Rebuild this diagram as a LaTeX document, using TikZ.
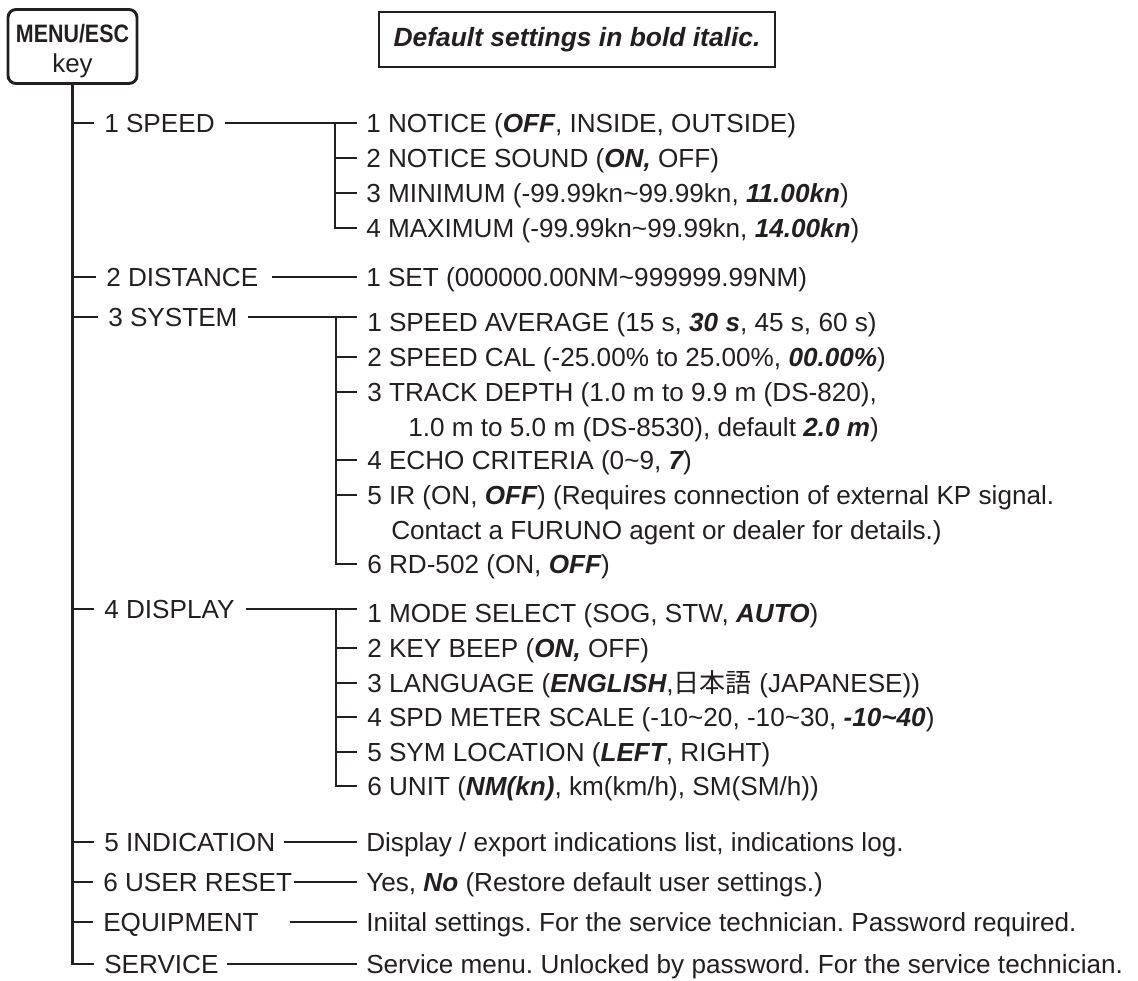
\documentclass[tikz,border=0pt]{standalone}
\usepackage{fontspec}
\setmainfont{Liberation Sans}
\newfontfamily\jpfont{Noto Sans CJK JP}
\newfontfamily\narrowfont{Liberation Sans}[FakeStretch=0.85]
\usetikzlibrary{calc}
\definecolor{ink}{RGB}{35,31,32}
\newcommand\bi[1]{{\bfseries\itshape #1}}
\newcommand\tld{\textasciitilde}
\frenchspacing
\begin{document}
\begin{tikzpicture}[x=0.75pt,y=-0.75pt,
  txt/.style={anchor=west, inner sep=0pt, text height=14pt, text depth=0pt,
    font=\fontsize{19.6}{23}\selectfont\frenchspacing, text=ink},
  ln/.style={line width=2.1pt, draw=ink},
  keybox/.style={draw=ink, line width=2.2pt, rounded corners=6pt, align=center,
    minimum width=96.75pt, minimum height=55.5pt, inner sep=0pt, text=ink,
    text height=39.75pt, text depth=0pt, font=\fontsize{19.4}{22.5}\selectfont},
  notebox/.style={draw=ink, line width=2pt, minimum width=297pt, minimum height=41.25pt,
    inner sep=0pt, text=ink, font=\fontsize{19.8}{23}\selectfont\bfseries\itshape}]
\useasboundingbox (0,0) rectangle (1138,981);
% header boxes
\node[keybox] (key) at (72.5,46.5)
  {{\fontsize{18.9}{22.5}\selectfont\narrowfont\bfseries MENU/ESC}\\key};
\node[notebox] (note) at (577,39.5) {Default settings in bold italic.};
% main menu items
\node[txt] (m1) at (104,123) {1 SPEED};
\node[txt] (m2) at (106,277) {2 DISTANCE};
\node[txt] (m3) at (108,317) {3 SYSTEM};
\node[txt] (m4) at (104,609) {4 DISPLAY};
\node[txt] (m5) at (104,842) {5 INDICATION};
\node[txt] (m6) at (103,882) {6 USER RESET};
\node[txt] (m7) at (103,922) {EQUIPMENT};
\node[txt] (m8) at (104,964) {SERVICE};
% sub items
\node[txt] (s11) at (366,123) {1 NOTICE (\bi{OFF}, INSIDE, OUTSIDE)};
\node[txt] (s12) at (366,158) {2 NOTICE SOUND (\bi{ON,} OFF)};
\node[txt] (s13) at (366,193) {3 MINIMUM (-99.99kn\tld{}99.99kn, \bi{11.00kn})};
\node[txt] (s14) at (366,228) {4 MAXIMUM (-99.99kn\tld{}99.99kn, \bi{14.00kn})};
\node[txt] (s21) at (366,277) {1 SET (000000.00NM\tld{}999999.99NM)};
\node[txt] (s31) at (367,322) {1 SPEED AVERAGE (15 s, \bi{30 s}, 45 s, 60 s)};
\node[txt] (s32) at (367,357) {2 SPEED CAL (-25.00\% to 25.00\%, \bi{00.00\%})};
\node[txt] (s33) at (367,392) {3 TRACK DEPTH (1.0 m to 9.9 m (DS-820),};
\node[txt] (c33) at (408,427) {1.0 m to 5.0 m (DS-8530), default \bi{2.0 m})};
\node[txt] (s34) at (367,460) {4 ECHO CRITERIA (0\tld{}9, \bi{7})};
\node[txt] (s35) at (367,495) {5 IR (ON, \bi{OFF}) (Requires connection of external KP signal.};
\node[txt] (c35) at (391,530) {Contact a FURUNO agent or dealer for details.)};
\node[txt] (s36) at (367,564) {6 RD-502 (ON, \bi{OFF})};
\node[txt] (s41) at (367,613) {1 MODE SELECT (SOG, STW, \bi{AUTO})};
\node[txt] (s42) at (367,648) {2 KEY BEEP (\bi{ON,} OFF)};
\node[txt] (s43) at (367,683) {3 LANGUAGE (\bi{ENGLISH},{\jpfont 日本語} (JAPANESE))};
\node[txt] (s44) at (367,717) {4 SPD METER SCALE (-10\tld{}20, -10\tld{}30, \bi{-10\tld{}40})};
\node[txt] (s45) at (367,752) {5 SYM LOCATION (\bi{LEFT}, RIGHT)};
\node[txt] (s46) at (367,786) {6 UNIT (\bi{NM(kn)}, km(km/h), SM(SM/h))};
\node[txt] (s51) at (366,842) {Display / export indications list, indications log.};
\node[txt] (s61) at (366,882) {Yes, \bi{No} (Restore default user settings.)};
\node[txt] (s71) at (366,922) {Iniital settings. For the service technician. Password required.};
\node[txt] (s81) at (366,964) {Service menu. Unlocked by password. For the service technician.};
% trunk
\draw[ln] (key.south) -- (key.south |- m8.west) -- ($(m8.west)+(-10,0)$);
\foreach \n in {m1,m2,m3,m4,m5,m6,m7}
  \draw[ln] (key.south |- \n.west) -- ($(\n.west)+(-10,0)$);
% 1 SPEED branch
\coordinate (v1) at ($(s11.west)+(-31,0)$);
\draw[ln] ($(m1.east)+(10,0)$) -- ($(s11.west)+(-9,0)$);
\draw[ln] (v1) |- ($(s14.west)+(-9,0)$);
\foreach \n in {s12,s13}
  \draw[ln] (v1 |- \n.west) -- ($(\n.west)+(-9,0)$);
% 2 DISTANCE
\draw[ln] ($(m2.east)+(13,0)$) -- ($(s21.west)+(-9,0)$);
% 3 SYSTEM branch
\coordinate (v3) at ($(m3.east -| s31.west)+(-31,0)$);
\draw[ln] ($(m3.east)+(10,0)$) -- ($(m3.east -| s31.west)+(-10,0)$);
\draw[ln] (v3) |- ($(s36.west)+(-10,0)$);
\foreach \n in {s32,s33,s34,s35}
  \draw[ln] (v3 |- \n.west) -- ($(\n.west)+(-10,0)$);
% 4 DISPLAY branch
\coordinate (v4) at ($(m4.east -| s41.west)+(-31,0)$);
\draw[ln] ($(m4.east)+(11,0)$) -- ($(m4.east -| s41.west)+(-10,0)$);
\draw[ln] (v4) |- ($(s46.west)+(-10,0)$);
\foreach \n in {s42,s43,s44,s45}
  \draw[ln] (v4 |- \n.west) -- ($(\n.west)+(-10,0)$);
% single leaves
\draw[ln] ($(m5.east)+(9,0)$) -- ($(s51.west)+(-9,0)$);
\draw[ln] ($(m6.east)+(2,0)$) -- ($(s61.west)+(-9,0)$);
\draw[ln] ($(m7.east)+(31,0)$) -- ($(s71.west)+(-9,0)$);
\draw[ln] ($(m8.east)+(8,0)$) -- ($(s81.west)+(-9,0)$);
\end{tikzpicture}
\end{document}
